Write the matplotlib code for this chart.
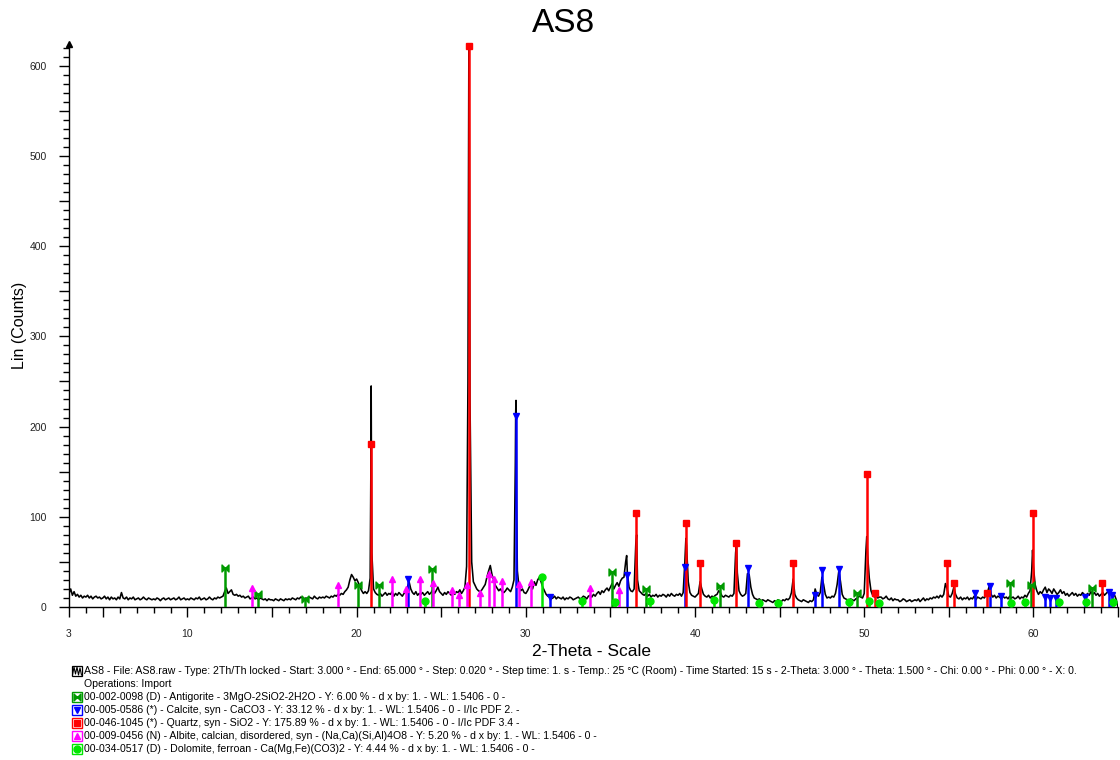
import numpy as np
import matplotlib
matplotlib.use("Agg")
import matplotlib.pyplot as plt
from matplotlib.path import Path
from matplotlib.patches import Rectangle
from matplotlib.ticker import FixedLocator, MultipleLocator

plt.rcParams['font.family'] = ['Liberation Sans', 'DejaVu Sans']

# scan, one row per degree (x.0 ... x.9), step 0.1
scan_start = 3.0
scan_step = 0.1
scan_rows = [
    [15, 20, 13, 17, 12, 14, 11, 13, 10, 12],   # 3
    [11, 13, 10, 12, 9, 11, 12, 10, 11, 9],
    [10, 12, 9, 11, 8, 11, 9, 10, 8, 11],
    [9, 16, 10, 9, 11, 8, 10, 9, 11, 8],
    [9, 10, 8, 9, 11, 9, 8, 10, 9, 8],
    [9, 8, 10, 9, 7, 9, 10, 8, 9, 10],
    [8, 9, 10, 8, 9, 11, 8, 9, 10, 8],
    [9, 8, 10, 9, 8, 10, 9, 11, 8, 9],          # 10
    [10, 8, 9, 11, 9, 8, 10, 9, 11, 10],
    [11, 12, 17, 21, 15, 17, 19, 14, 13, 14],
    [12, 13, 11, 12, 10, 11, 12, 9, 10, 11],
    [9, 10, 8, 10, 9, 8, 9, 7, 9, 8],
    [8, 7, 9, 8, 7, 9, 8, 7, 9, 8],             # 15
    [9, 8, 10, 9, 8, 10, 9, 11, 10, 9],
    [10, 9, 11, 10, 9, 12, 10, 9, 11, 10],
    [11, 10, 12, 11, 10, 12, 11, 13, 12, 14],
    [13, 15, 14, 17, 19, 22, 30, 36, 33, 29],
    [31, 27, 22, 18, 15, 17, 15, 18, 32, 60],   # 20
    [20, 16, 14, 13, 15, 12, 14, 16, 13, 15],
    [14, 17, 12, 15, 13, 16, 14, 12, 15, 17],
    [22, 28, 20, 16, 14, 17, 13, 15, 14, 16],
    [13, 15, 17, 14, 16, 19, 15, 18, 22, 17],
    [15, 13, 16, 14, 17, 15, 13, 16, 14, 17],   # 25
    [16, 19, 15, 18, 22, 45, 400, 230, 50, 28],
    [24, 20, 18, 17, 19, 22, 25, 33, 40, 46],
    [36, 30, 24, 21, 18, 20, 17, 16, 18, 21],
    [19, 17, 22, 30, 215, 40, 22, 18, 20, 16],
    [15, 18, 22, 25, 20, 28, 24, 30, 33, 28],   # 30
    [22, 18, 14, 12, 11, 9, 10, 12, 9, 11],
    [10, 9, 11, 8, 10, 9, 11, 10, 8, 9],
    [10, 11, 9, 10, 12, 11, 9, 12, 13, 11],
    [14, 12, 15, 17, 14, 18, 16, 19, 21, 18],
    [22, 26, 20, 24, 27, 23, 29, 32, 33, 50],   # 35
    [38, 22, 18, 17, 20, 70, 30, 18, 16, 14],
    [13, 15, 12, 14, 11, 13, 12, 14, 11, 13],
    [12, 14, 13, 11, 14, 12, 15, 13, 12, 14],
    [13, 15, 12, 16, 50, 68, 28, 16, 13, 12],
    [11, 13, 15, 28, 20, 14, 12, 11, 13, 10],   # 40
    [12, 11, 13, 14, 18, 16, 12, 11, 13, 12],
    [11, 13, 12, 15, 60, 38, 18, 14, 12, 13],
    [15, 37, 36, 22, 14, 10, 9, 8, 9, 7],
    [8, 7, 6, 8, 7, 6, 5, 7, 6, 8],
    [7, 6, 8, 7, 9, 8, 10, 16, 31, 14],         # 45
    [10, 8, 7, 6, 8, 7, 6, 5, 7, 6],
    [8, 20, 14, 12, 16, 33, 25, 14, 10, 11],
    [10, 12, 11, 15, 25, 40, 28, 14, 10, 9],
    [8, 7, 9, 8, 7, 9, 10, 12, 11, 10],
    [15, 62, 58, 32, 18, 13, 11, 12, 10, 11],   # 50
    [11, 9, 10, 12, 9, 8, 10, 7, 9, 8],
    [8, 6, 7, 9, 8, 6, 7, 8, 6, 7],
    [8, 7, 9, 6, 8, 10, 7, 9, 8, 10],
    [9, 11, 10, 12, 10, 13, 11, 14, 26, 20],
    [12, 11, 15, 22, 14, 10, 9, 11, 8, 10],     # 55
    [9, 11, 8, 10, 9, 12, 8, 11, 10, 9],
    [11, 10, 13, 17, 24, 14, 11, 13, 10, 12],
    [11, 9, 12, 10, 11, 9, 12, 10, 11, 9],
    [10, 12, 9, 11, 10, 13, 11, 15, 18, 40],
    [45, 25, 18, 14, 17, 15, 19, 22, 16, 20],   # 60
    [18, 15, 20, 17, 14, 16, 19, 15, 17, 13],
    [15, 12, 14, 16, 13, 15, 12, 14, 13, 16],
    [14, 12, 15, 13, 17, 14, 16, 13, 15, 12],
    [14, 16, 13, 15, 17, 14, 16, 12, 13, 8],
]
scan_last = [0]   # 65.0

# sharp peak tops between the grid points
apex_x = [20.84, 20.86, 20.88, 26.58, 26.63, 26.645, 26.66, 26.68,
          29.38, 29.42, 29.45, 35.96, 36.55, 39.46, 42.45, 50.15, 59.95]
apex_y = [150, 245, 130, 250, 600, 622, 520, 380,
          160, 229, 120, 57, 80, 76, 71, 78, 63]

# reference patterns (stick position, stick height)
antig_x = [12.2, 14.15, 16.94, 20.1, 21.3, 24.45, 35.1, 37.1, 41.5, 49.6, 58.6, 59.85, 63.45]
antig_h = [43, 14, 9, 24, 24, 42, 39, 20, 23, 16, 27, 24, 21]
calc_x = [23.06, 29.41, 31.42, 35.97, 39.40, 43.15, 47.12, 47.49, 48.51,
          56.57, 57.41, 58.10, 60.68, 61.01, 61.36, 63.06, 64.47, 64.67]
calc_h = [31, 212, 11, 36, 44, 43, 13, 41, 42, 15, 23, 12, 11, 10, 10, 11, 17, 13]
qtz_x = [20.86, 26.64, 36.54, 39.47, 40.29, 42.45, 45.79, 50.14, 50.62,
         54.87, 55.33, 57.24, 59.96, 64.03]
qtz_h = [181, 622, 104, 93, 49, 71, 49, 147, 15, 49, 27, 15, 104, 27]
alb_x = [13.8, 18.9, 22.1, 22.9, 23.75, 24.5, 25.65, 26.05, 26.5, 27.3,
         27.8, 28.1, 28.6, 29.6, 30.3, 33.8, 35.5]
alb_h = [21, 24, 31, 20, 31, 27, 19, 13, 24, 15, 37, 31, 29, 25, 28, 21, 19]
dol_x = [24.04, 30.94, 33.3, 35.3, 37.35, 41.1, 43.8, 44.9, 49.1, 50.3,
         50.9, 58.7, 59.5, 61.5, 63.1, 64.7]
dol_h = [7, 33, 7, 6, 7, 8, 4, 4, 5, 7, 4, 4, 5, 5, 5, 5]

legend_lines = [
    "AS8 - File: AS8.raw - Type: 2Th/Th locked - Start: 3.000 ° - End: 65.000 ° - Step: 0.020 ° - Step time: 1. s - Temp.: 25 °C (Room) - Time Started: 15 s - 2-Theta: 3.000 ° - Theta: 1.500 ° - Chi: 0.00 ° - Phi: 0.00 ° - X: 0.",
    "Operations: Import",
    "00-002-0098 (D) - Antigorite - 3MgO-2SiO2-2H2O - Y: 6.00 % - d x by: 1. - WL: 1.5406 - 0 -",
    "00-005-0586 (*) - Calcite, syn - CaCO3 - Y: 33.12 % - d x by: 1. - WL: 1.5406 - 0 - I/Ic PDF 2. -",
    "00-046-1045 (*) - Quartz, syn - SiO2 - Y: 175.89 % - d x by: 1. - WL: 1.5406 - 0 - I/Ic PDF 3.4 -",
    "00-009-0456 (N) - Albite, calcian, disordered, syn - (Na,Ca)(Si,Al)4O8 - Y: 5.20 % - d x by: 1. - WL: 1.5406 - 0 -",
    "00-034-0517 (D) - Dolomite, ferroan - Ca(Mg,Fe)(CO3)2 - Y: 4.44 % - d x by: 1. - WL: 1.5406 - 0 -",
]

scan = np.array([v for row in scan_rows for v in row] + scan_last, dtype=float)
grid = scan_start + scan_step * np.arange(len(scan))
tt = np.concatenate([grid, apex_x])
counts = np.concatenate([scan, apex_y])
order = np.argsort(tt)
tt, counts = tt[order], counts[order]

bowtie = Path([(-1, -1), (0, 0), (-1, 1), (-1, -1), (1, -1), (0, 0), (1, 1), (1, -1)],
              [Path.MOVETO, Path.LINETO, Path.LINETO, Path.CLOSEPOLY,
               Path.MOVETO, Path.LINETO, Path.LINETO, Path.CLOSEPOLY])

phases = [
    (antig_x, antig_h, "#009a00", bowtie),
    (calc_x, calc_h, "#0000ff", "v"),
    (qtz_x, qtz_h, "#ff0000", "s"),
    (alb_x, alb_h, "#ff00ff", "^"),
    (dol_x, dol_h, "#00e600", "o"),
]

fig = plt.figure(figsize=(11.2, 7.6), dpi=100)
W, H = 1120, 760
ax = fig.add_axes([69 / W, 1 - 607 / H, 1049 / W, 563 / H])

ax.plot(tt, counts, color="black", lw=1.15, zorder=3)
for px, ph, col, mk in phases:
    ax.vlines(px, 0, ph, color=col, lw=1.8, zorder=4)
    ax.plot(px, ph, ls="none", marker=mk, ms=5, color=col, mec=col, zorder=5, clip_on=False)

ax.set_xlim(3, 65)
ax.set_ylim(0, 624)
for s in ["top", "right"]:
    ax.spines[s].set_visible(False)
ax.spines["left"].set_linewidth(1.0)
ax.spines["bottom"].set_linewidth(1.0)

xmaj = [3] + list(range(5, 66, 5))
ax.xaxis.set_major_locator(FixedLocator(xmaj))
ax.set_xticklabels([str(v) if (v == 3 or v % 10 == 0) else "" for v in xmaj])
ax.xaxis.set_minor_locator(MultipleLocator(1))
ymaj = list(range(0, 601, 50))
ax.yaxis.set_major_locator(FixedLocator(ymaj))
ax.set_yticklabels([str(v) if v % 100 == 0 else "" for v in ymaj])
ax.yaxis.set_minor_locator(FixedLocator(list(range(0, 621, 10))))
ax.tick_params(which="major", length=7, width=1, labelsize=7.5, labelcolor="#222222", pad=9)
ax.tick_params(which="minor", length=4, width=1)
ax.plot([0], [1], marker="^", ms=4, color="black", transform=ax.transAxes, clip_on=False)

# text and legend in pixel coordinates
ov = fig.add_axes([0, 0, 1, 1])
ov.set_xlim(0, W)
ov.set_ylim(H, 0)
ov.axis("off")
ov.text(564, 23, "AS8", fontsize=24, ha="center", va="center")
ov.text(592, 651, "2-Theta - Scale", fontsize=12.5, ha="center", va="center")
ov.text(20, 325, "Lin (Counts)", fontsize=11.5, ha="center", va="center", rotation=90)

row_y = [671, 684, 697, 710, 723, 736, 749]
for i, line in enumerate(legend_lines):
    ov.text(84, row_y[i], line, fontsize=7.6, ha="left", va="center")

# scan icon
ov.add_patch(Rectangle((72, row_y[0] - 5), 10, 10, fill=False, ec="black", lw=0.9))
ov.plot([72.5, 74, 75.5, 77, 78.5, 80, 81.5],
        [row_y[0] + 4, row_y[0] - 4, row_y[0] + 3, row_y[0] - 4, row_y[0] + 4, row_y[0] - 3, row_y[0] + 4],
        color="black", lw=0.8)
for i, (px, ph, col, mk) in enumerate(phases):
    yy = row_y[i + 2]
    ov.add_patch(Rectangle((72, yy - 5), 10, 10, fill=False, ec=col, lw=1.0))
    ov.plot([77], [yy], marker=mk, ms=5, color=col, mec=col, ls="none")

fig.savefig("out.png", dpi=100)
